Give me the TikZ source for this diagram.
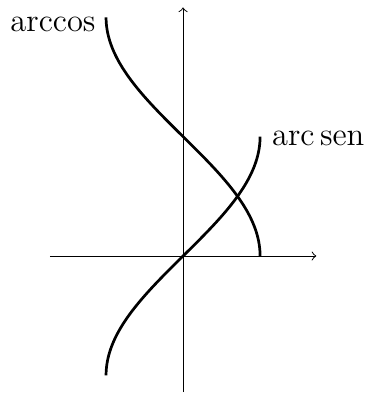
\documentclass[tikz,border=0pt]{standalone}
\begin{document}
\begin{tikzpicture}[x=1cm,y=0.987cm,
  axis/.style={->,line width=0.35pt},
  curve/.style={line width=1pt,smooth,samples=100},
  lbl/.style={font=\large,inner sep=0pt}]
\useasboundingbox (-2.377,-1.815) rectangle (2.364,3.368);
\coordinate (xl) at (-1.73,0);
\coordinate (xr) at (1.73,0);
\coordinate (yb) at (0,-1.79);
\coordinate (yt) at (0,3.27);
\draw[axis] (xl) -- (xr);
\draw[axis] (yb) -- (yt);
\draw[curve] plot[variable=\t,domain=-pi/2:pi/2] ({sin(\t r)},\t);
\draw[curve] plot[variable=\t,domain=0:pi] ({cos(\t r)},\t);
\coordinate (cos1) at (-1,3.1416);
\coordinate (sin1) at (1,1.5708);
\node[lbl,anchor=east] (lcos) at ([xshift=-0.13cm,yshift=-0.1cm]cos1) {arccos};
\node[lbl,anchor=west] (lsin) at ([xshift=0.15cm,yshift=-0.02cm]sin1) {arc\,sen};
\end{tikzpicture}
\end{document}
